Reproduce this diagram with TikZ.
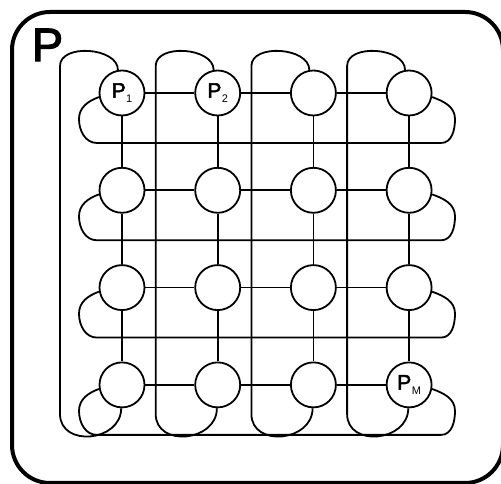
\documentclass[tikz,border=0pt]{standalone}
\usepackage{fontspec}
\setmainfont{Liberation Sans}
\newfontfamily\heavyfont{Liberation Sans}[FakeBold=2.5]
\usetikzlibrary{positioning}

\newcommand{\procsub}[1]{P\kern0.5pt\raisebox{-5pt}{\normalfont\fontsize{11}{11}\selectfont #1}}

\begin{document}
\begin{tikzpicture}[
    x=1pt, y=1pt,
    proc/.style={circle, draw, line width=1.8pt, fill=white, minimum size=45pt, inner sep=0pt},
    tag/.style={inner sep=0pt, font=\heavyfont\fontsize{21}{21}\selectfont},
    link/.style={line width=1.8pt},
    frame/.style={line width=4pt, rounded corners=38pt}
]
\useasboundingbox (0,0) rectangle (501,484);

% Outer box
\draw[frame] (12,1) rectangle (503,472);
\node[inner sep=0pt, font=\heavyfont\fontsize{47}{47}\selectfont] (title) at (47.5,439) {P};

% Processors
\foreach \r in {1,...,4}
  \foreach \c in {1,...,4}
    \node[proc] (p-\r-\c) at ({122+95.7*(\c-1)}, {391-97.3*(\r-1)}) {};

% Mesh links
\foreach \r in {1,...,4}
  \foreach \c [count=\n from 2] in {1,2,3}
    \draw[link] (p-\r-\c) -- (p-\r-\n);
\foreach \c in {1,...,4}
  \foreach \r [count=\n from 2] in {1,2,3}
    \draw[link] (p-\r-\c) -- (p-\n-\c);

% Row wrap-arounds
\foreach \r in {1,...,4} {
  \pgfmathsetmacro{\wy}{391-97.3*(\r-1)-50}
  \draw[link] (p-\r-1.190) to[out=200,in=90] (79,\wy+24) to[out=-90,in=180] (97,\wy)
    -- (441,\wy) to[out=0,in=-90] (455,\wy+24) to[out=90,in=-20] (p-\r-4.-10);
}

% Column wrap-arounds
\foreach \c in {1,...,4} {
  \pgfmathsetmacro{\wx}{122+95.7*(\c-1)-62}
  \draw[link] (p-1-\c.100) to[out=90,in=90] (\wx,418) -- (\wx,70)
    to[out=-90,in=-90,looseness=1.4] (p-4-\c.-92);
}

% Labels
\node[tag] at (p-1-1) {\procsub{1}};
\node[tag] at (p-1-2) {\procsub{2}};
\node[tag] at (p-4-4) {\procsub{M}};
\end{tikzpicture}
\end{document}
